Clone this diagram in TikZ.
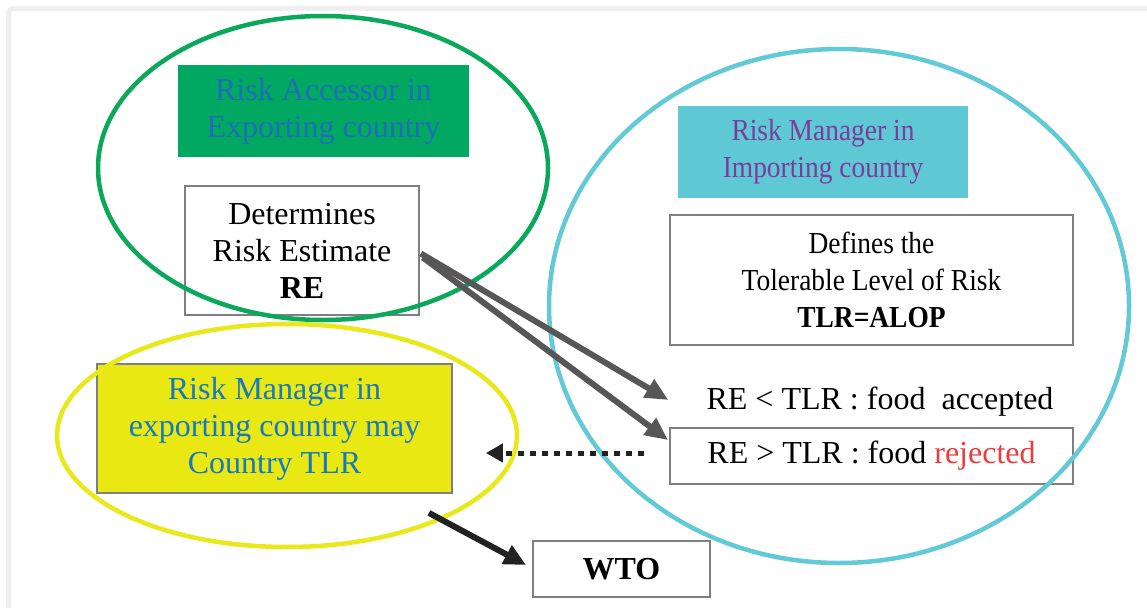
\documentclass[tikz,border=0pt]{standalone}
\usepackage{fontspec}
\setmainfont{Liberation Serif}
\newfontfamily\narrowserif[FakeStretch=0.9]{Liberation Serif}
\usetikzlibrary{arrows.meta,calc}

\definecolor{framegray}{HTML}{EFEFEF}
\definecolor{greenring}{HTML}{0AA85A}
\definecolor{accfill}{HTML}{00A862}
\definecolor{acctext}{HTML}{1E6EB8}
\definecolor{cyanring}{HTML}{62C9D6}
\definecolor{cyanfill}{HTML}{5FC8D5}
\definecolor{imptext}{HTML}{7B3C9C}
\definecolor{yellowring}{HTML}{E8E81A}
\definecolor{yellowfill}{HTML}{EAE813}
\definecolor{exptext}{HTML}{1479C1}
\definecolor{boxgray}{HTML}{7F7F7F}
\definecolor{arrowgray}{HTML}{575757}
\definecolor{darkink}{HTML}{222222}
\definecolor{rejred}{HTML}{EE3B3B}

\tikzset{
  bigtext/.style={font=\fontsize{32}{37}\selectfont},
  smalltext/.style={font=\narrowserif\fontsize{30.5}{37}\selectfont},
  plainbox/.style={draw=boxgray, line width=1.8pt, fill=white, inner sep=0pt, align=center},
  colourbox/.style={inner sep=0pt, align=center},
  ring/.style={line width=4.5pt},
  grayarrow/.style={draw=arrowgray, line width=6pt,
    -{Triangle[length=23pt,width=20pt]}, fill=arrowgray},
  dotarrow/.style={draw=darkink, line width=5pt, dash pattern=on 6pt off 6pt,
    -{Triangle[length=17pt,width=18pt,fill=darkink]}},
  darkarrow/.style={draw=darkink, line width=6pt,
    -{Triangle[length=22pt,width=20pt]}},
}

\begin{document}
\begin{tikzpicture}[x=1pt,y=-1pt]
\useasboundingbox (0,0) rectangle (1147,607);
% page frame
\draw[framegray, line width=5pt, rounded corners=5pt] (8.5,8.5) rectangle (1175,640);

% boxes
\node[colourbox, bigtext, fill=accfill, text=acctext,
      minimum width=291pt, minimum height=92pt] (assessor) at (323.5,111)
      {Risk Accessor in\\Exporting country};
\node[plainbox, bigtext, minimum width=234pt, minimum height=129pt] (det) at (302,250.5)
      {Determines\\Risk Estimate\\\textbf{RE}};
\node[colourbox, smalltext, fill=cyanfill, text=imptext,
      minimum width=290pt, minimum height=92pt] (importer) at (823,152)
      {Risk Manager in\\Importing country};
\node[plainbox, smalltext, minimum width=403pt, minimum height=130pt] (def) at (871.5,280)
      {Defines the\\Tolerable Level of Risk\\\textbf{TLR=ALOP}};
\node[bigtext, inner sep=0pt] (acctxt) at (880,402) {RE < TLR : food~~accepted};
\node[plainbox, bigtext, minimum width=403pt, minimum height=56pt] (rej) at (871.5,456)
      {\raisebox{-3pt}{RE > TLR : food \textcolor{rejred}{rejected}}};
\node[plainbox, bigtext, fill=yellowfill, text=exptext,
      minimum width=355pt, minimum height=129pt] (exporter) at (274.5,428.5)
      {Risk Manager in\\exporting country may\\Country TLR};
\node[plainbox, bigtext, minimum width=177pt, minimum height=56pt] (wto) at (621.5,569)
      {\textbf{WTO}};

% grouping rings
\draw[ring, greenring] (323,168) ellipse [x radius=225pt, y radius=152pt];
\draw[ring, cyanring] (839,306) ellipse [x radius=290pt, y radius=257pt];
\draw[ring, yellowring] (287,435.5) ellipse [x radius=230pt, y radius=111.5pt];

% connectors
\draw[grayarrow] ($(det.east)+(1,3)$) -- ($(acctxt.west)+(-38,-2)$);
\draw[grayarrow] ($(det.east)+(3,7)$) -- ($(rej.north west)+(-1,13)$);
\draw[dotarrow] ($(rej.west)+(-25,-3)$) -- ($(exporter.east)+(33,24.5)$);
\draw[darkarrow] ($(exporter.south east)+(-24,19)$) -- ($(wto.west)+(-6,-4)$);
\end{tikzpicture}
\end{document}
